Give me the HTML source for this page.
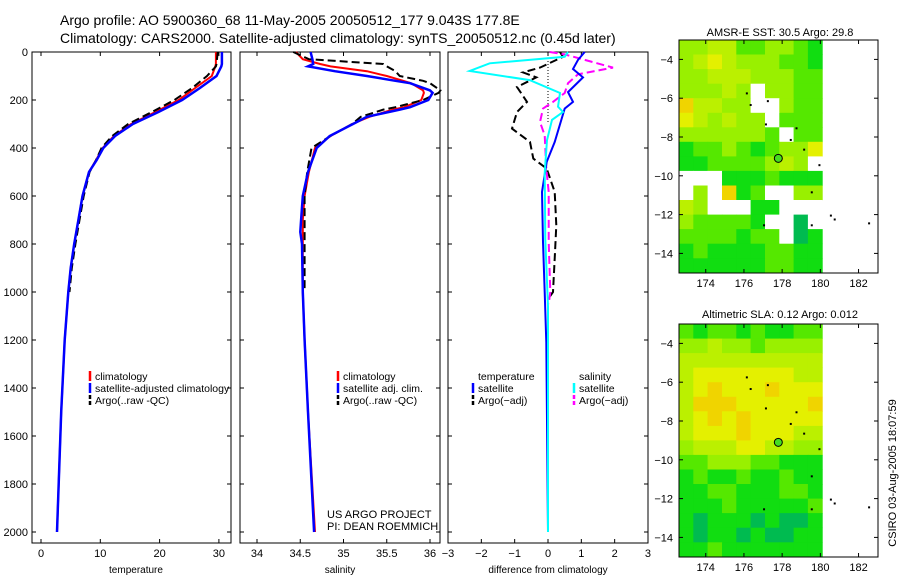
<!DOCTYPE html>
<html><head><meta charset="utf-8">
<style>
body{margin:0;background:#fff;}
svg{display:block;font-family:"Liberation Sans",sans-serif;}
</style></head>
<body>
<svg id="c" width="900" height="580" xmlns="http://www.w3.org/2000/svg">
<text x="60" y="25" font-size="14">Argo profile: AO 5900360_68 11-May-2005 20050512_177 9.043S 177.8E</text>
<text x="60" y="43" font-size="14">Climatology: CARS2000. Satellite-adjusted climatology: synTS_20050512.nc (0.45d later)</text>
<text x="780" y="36" font-size="11" text-anchor="middle">AMSR-E SST: 30.5 Argo: 29.8</text>
<text x="780" y="318" font-size="11" text-anchor="middle">Altimetric SLA: 0.12 Argo: 0.012</text>
<text transform="translate(896,473) rotate(-90)" font-size="11" text-anchor="middle">CSIRO 03-Aug-2005 18:07:59</text>
<text x="327" y="518" font-size="11">US ARGO PROJECT</text>
<text x="327" y="530" font-size="11">PI: DEAN ROEMMICH</text>
</svg>
<script>
// ---- depth axis ----
const depthTicks=[0,200,400,600,800,1000,1200,1400,1600,1800,2000];
// temperature panel
const tDepth=[0,50,60,100,150,200,250,300,350,400,450,500,600,700,800,900,1000,1200,1500,2000];
const tClim=[29.5,29.5,29.4,28.8,26.0,23.2,19.3,15.2,12.3,10.4,9.3,8.1,7.0,6.3,5.6,5.0,4.6,4.0,3.4,2.7];
const tSat=[30.5,30.5,30.4,29.6,26.8,23.8,19.8,15.5,12.5,10.5,9.4,8.1,7.0,6.3,5.6,5.0,4.6,4.0,3.4,2.7];
const tArgo=[29.8,29.6,29.5,28.0,25.5,22.5,18.7,14.7,12.0,10.2,9.3,8.2,7.2,6.5,5.8,5.2,4.8];
const tTicks=[0,10,20,30];
// salinity panel
const sDepth=[0,30,50,60,80,100,120,130,160,170,200,230,240,270,300,350,400,500,600,700,750,800,1000,1200,1500,2000];
const sClim=[34.45,34.53,34.73,34.85,35.27,35.5,35.69,35.78,35.92,35.93,35.9,35.7,35.57,35.3,35.1,34.85,34.67,34.6,34.55,34.53,34.53,34.53,34.53,34.55,34.59,34.67];
const sSat=[34.62,34.64,34.65,34.59,34.9,35.27,35.6,35.77,36.0,36.03,35.98,35.77,35.65,35.27,35.11,34.84,34.69,34.59,34.53,34.51,34.5,34.52,34.53,34.55,34.59,34.66];
const sArgo=[34.42,34.6,35.46,35.5,35.6,35.65,35.92,36.0,36.12,36.1,35.92,35.6,35.46,35.2,35.1,34.85,34.63,34.58,34.55,34.55,34.55,34.55,34.55];
const sTicks=[34,34.5,35,35.5,36];
// difference panel
const dSalSatDepth=[0,20,47,79,117,171,228,250,283,367,505,783,1061,2000];
const dSalSat=[0.6,0.5,-1.75,-2.35,-0.55,0.36,0.3,0.45,0.12,-0.03,-0.1,-0.08,0,0];
const dTSatDepth=[0,33,71,106,167,208,236,375,458,583,792,1000,1210,2000];
const dTSat=[1.1,0.9,0.75,1.05,0.6,0.75,0.5,0.2,-0.04,-0.18,-0.15,-0.1,-0.05,0];
const dTArgoDepth=[0,20,65,85,106,146,208,250,319,375,444,486,583,722,861,1000,1030];
const dTArgo=[0.36,0.45,-0.24,-0.75,-0.35,-0.93,-0.63,-0.93,-1.08,-0.54,-0.44,-0.04,0.2,0.25,0.2,0.15,0];
const dSArgoDepth=[0,10,65,93,130,171,208,236,292,347,486,583,792,1000,1050];
const dSArgo=[0.05,0.5,1.95,0.9,0.6,0.5,0.15,-0.15,-0.24,-0.1,-0.05,0.02,0.02,0.07,0.02];
const dTicks=[-3,-2,-1,0,1,2,3];
// maps: rows lat -3.4 .. -14.6 (0.75deg), cols lon 173.0 .. 179.7 ; 0 = missing
const sstGrid=[
[4,4,5,5,3,3,4,4,3,2],[4,5,6,5,4,4,4,3,3,2],[4,4,5,5,5,4,4,4,3,3],[4,4,4,5,4,0,4,4,3,3],
[7,5,5,4,4,0,0,4,3,3],[6,5,4,5,4,4,0,3,3,3],[4,4,4,4,4,4,3,0,3,3],[2,3,3,4,3,2,3,4,4,6],
[2,2,3,3,3,3,4,5,4,0],[0,0,0,2,2,2,3,2,2,2],[0,4,0,7,2,3,0,0,4,4],[5,4,0,0,0,2,2,0,0,0],
[4,3,3,3,3,2,0,0,1,0],[3,3,3,3,2,3,3,0,1,2],[2,3,2,2,2,2,3,3,2,2],[2,2,2,2,2,2,3,3,2,2]];
const slaGrid=[
[3,2,3,3,2,3,2,2,3,3],[4,4,5,4,4,3,4,4,4,4],[5,5,5,5,5,5,5,5,5,5],[5,6,6,6,6,6,6,6,5,5],
[5,6,7,6,6,6,7,6,6,6],[5,7,7,7,6,6,6,6,6,7],[5,6,7,6,7,6,6,6,6,6],[5,6,6,6,7,6,6,6,5,5],
[4,5,5,5,6,6,5,5,4,4],[3,3,4,4,4,3,3,2,2,2],[2,3,2,2,3,2,2,3,2,2],[2,2,3,3,2,2,2,3,3,2],
[2,2,2,3,2,2,2,2,2,3],[2,1,2,2,2,1,2,1,1,2],[2,1,2,2,1,2,1,1,2,2],[2,2,3,2,2,2,2,2,2,2]];
const lonTicks=[174,176,178,180,182];
const latTicks=[-4,-6,-8,-10,-12,-14];
const islands=[[176.1,-5.7],[176.3,-6.3],[177.2,-6.1],[177.1,-7.3],[178.7,-7.5],[178.4,-8.1],[179.1,-8.6],[179.9,-9.4],[179.5,-10.8],[177.0,-12.5],[179.5,-12.5],[180.5,-12.0],[180.7,-12.2],[182.5,-12.4]];
const argoPos=[177.8,-9.1];

const NS="http://www.w3.org/2000/svg";
const svg=document.getElementById('c');
function mk(tag,attrs,parent){const e=document.createElementNS(NS,tag);for(const k in attrs)e.setAttribute(k,attrs[k]);(parent||svg).appendChild(e);return e;}
const top0=52, pxPerM=0.24, bot=543;
const yD=d=>top0+d*pxPerM;
const panels=[
 {x0:32,x1:231,f:v=>41+v*5.93,ticks:tTicks,lab:'temperature',name:'temperature-panel'},
 {x0:240,x1:440,f:v=>257+(v-34)*86.5,ticks:sTicks,lab:'salinity',name:'salinity-panel'},
 {x0:448,x1:648,f:v=>548+v*33.33,ticks:dTicks,lab:'difference from climatology',name:'difference-panel'}];
panels.forEach((p,i)=>{
  const g=mk('g',{});
  
  
  const r=mk('rect',{x:p.x0,y:top0,width:p.x1-p.x0,height:bot-top0,fill:'none',stroke:'#000','stroke-width':1},g);
  
  
  depthTicks.forEach(d=>{
    mk('line',{x1:p.x0,x2:p.x0+4,y1:yD(d),y2:yD(d),stroke:'#000'},g);
    mk('line',{x1:p.x1,x2:p.x1-4,y1:yD(d),y2:yD(d),stroke:'#000'},g);
    if(i===0){const t=mk('text',{x:28,y:yD(d)+4,'font-size':11,'text-anchor':'end'},g);t.textContent=d;
      
      }
  });
  p.ticks.forEach(v=>{
    const x=p.f(v);
    mk('line',{x1:x,x2:x,y1:bot,y2:bot-4,stroke:'#000'},g);
    mk('line',{x1:x,x2:x,y1:top0,y2:top0+4,stroke:'#000'},g);
    const t=mk('text',{x:x,y:bot+14,'font-size':11,'text-anchor':'middle'},g);
    t.textContent=String(v).replace('-','\u2212');
    
    
  });
  const t=mk('text',{x:(i===0?136:i===1?340:548),y:bot+30,'font-size':10,'text-anchor':'middle'},g);
  t.textContent=p.lab;
  
  
});
function line(p,depths,vals,color,w,dash,name){
  const pts=vals.map((v,k)=>p.f(v).toFixed(1)+','+yD(depths[k]).toFixed(1)).join(' ');
  const e=mk('polyline',{points:pts,fill:'none',stroke:color,'stroke-width':w});
  if(dash)e.setAttribute('stroke-dasharray',dash);
  
  
}
const zl=mk('line',{x1:548,x2:548,y1:top0,y2:yD(300),stroke:'#000','stroke-dasharray':'1,2'});


line(panels[0],tDepth,tClim,'#f00',2,null,'temp-climatology-line');
line(panels[0],tDepth.slice(0,tArgo.length),tArgo,'#000',2,'8,4','temp-argo-line');
line(panels[0],tDepth,tSat,'#00f',2.5,null,'temp-satellite-line');
line(panels[1],sDepth,sClim,'#f00',2,null,'sal-climatology-line');
line(panels[1],sDepth.slice(0,sArgo.length),sArgo,'#000',2,'8,4','sal-argo-line');
line(panels[1],sDepth,sSat,'#00f',2.5,null,'sal-satellite-line');
line(panels[2],dTArgoDepth,dTArgo,'#000',2,'8,4','diff-temp-argo-line');
line(panels[2],dSArgoDepth,dSArgo,'#f0f',2,'8,4','diff-sal-argo-line');
line(panels[2],dTSatDepth,dTSat,'#00f',2,null,'diff-temp-satellite-line');
line(panels[2],dSalSatDepth,dSalSat,'#0ff',2,null,'diff-sal-satellite-line');
function legend(x,y,color,label,dash){
  const g=mk('g',{});
  
  
  if(color){const l=mk('line',{x1:x,x2:x,y1:y-9,y2:y+1,stroke:color,'stroke-width':2.5},g);if(dash)l.setAttribute('stroke-dasharray',dash);}
  const t=mk('text',{x:x+5,y:y,'font-size':10.5},g);t.textContent=label;
}
legend(90,380,'#f00','climatology');
legend(90,392,'#00f','satellite-adjusted climatology');
legend(90,404,'#000','Argo(..raw -QC)','4,2');
legend(338,380,'#f00','climatology');
legend(338,392,'#00f','satellite adj. clim.');
legend(338,404,'#000','Argo(..raw -QC)','4,2');
legend(473,380,null,'temperature');
legend(473,392,'#00f','satellite');
legend(473,404,'#000','Argo(\u2212adj)','4,2');
legend(574,380,null,'salinity');
legend(574,392,'#0ff','satellite');
legend(574,404,'#f0f','Argo(\u2212adj)','4,2');
const colors=['#ffffff','#00bb50','#11dd11','#55e800','#99f000','#bbf000','#e4f000','#f0d400'];
function drawMap(grid,y0,name){
  const x0=679,x1=878,y1=y0+233;
  const fx=lon=>x0+(lon-172.6)*19.1, fy=lat=>y0+(-3-lat)*19.4;
  const g=mk('g',{});
  
  
  grid.forEach((row,r)=>row.forEach((v,c)=>{
    const lon=172.6+c*0.75, lat=-3-r*0.75;
    const x=fx(lon),y=fy(lat);
    const e=mk('rect',{x:x.toFixed(1),y:y.toFixed(1),width:(0.75*19.1+0.5).toFixed(1),height:(0.75*19.4+0.5).toFixed(1),fill:colors[v]},g);
    
    
  }));
  islands.forEach(p=>{const e=mk('rect',{x:fx(p[0]),y:fy(p[1]),width:2,height:2,fill:'#000'},g);
    
    });
  const c=mk('circle',{cx:fx(argoPos[0]),cy:fy(argoPos[1]),r:4,fill:'#44dd22',stroke:'#000','stroke-width':1},g);
  
  
  mk('rect',{x:x0,y:y0,width:x1-x0,height:y1-y0,fill:'none',stroke:'#000'},g);
  lonTicks.forEach(l=>{const x=fx(l);
    mk('line',{x1:x,x2:x,y1:y1,y2:y1-4,stroke:'#000'},g);mk('line',{x1:x,x2:x,y1:y0,y2:y0+4,stroke:'#000'},g);
    const t=mk('text',{x:x,y:y1+14,'font-size':11,'text-anchor':'middle'},g);t.textContent=l;
    
    });
  latTicks.forEach(l=>{const y=fy(l);
    mk('line',{x1:x0,x2:x0+4,y1:y,y2:y,stroke:'#000'},g);mk('line',{x1:x1,x2:x1-4,y1:y,y2:y,stroke:'#000'},g);
    const t=mk('text',{x:x0-6,y:y+4,'font-size':11,'text-anchor':'end'},g);t.textContent=String(l).replace('-','\u2212');
    
    });
}
drawMap(sstGrid,40,'sst-map');
drawMap(slaGrid,324,'sla-map');
</script>
</body></html>
